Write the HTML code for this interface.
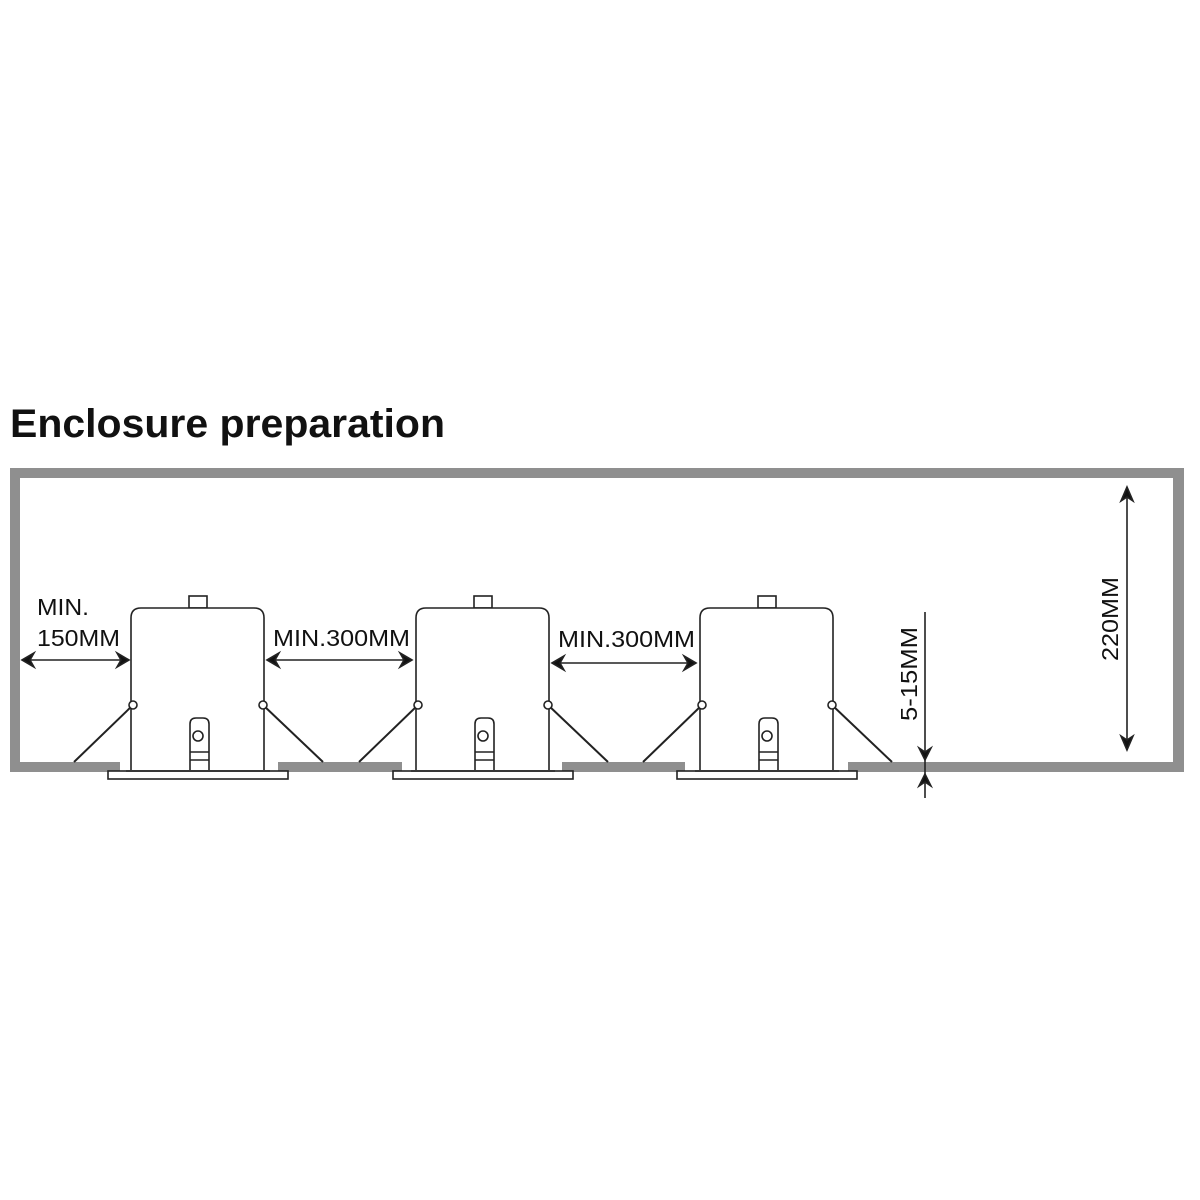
<!DOCTYPE html>
<html><head><meta charset="utf-8"><style>
html,body{margin:0;padding:0;background:#fff;}
svg{display:block;}
</style></head><body>
<svg width="1200" height="1200" viewBox="0 0 1200 1200" xmlns="http://www.w3.org/2000/svg" font-family="Liberation Sans, Arial, sans-serif">
<defs>
<g id="fx" fill="none" stroke="#222" stroke-width="1.6">
  <rect x="189" y="596" width="18" height="12" fill="#fff"/>
  <path d="M131,770 V618 Q131,608 141,608 H254 Q264,608 264,618 V770" fill="#fff"/>
  <rect x="108" y="771" width="180" height="8" fill="#fff"/>
  <line x1="126" y1="771" x2="270" y2="771"/>
  <line x1="133" y1="705" x2="74" y2="762" stroke-width="2"/>
  <line x1="263" y1="705" x2="323" y2="762" stroke-width="2"/>
  <circle cx="133" cy="705" r="4" fill="#fff"/>
  <circle cx="263" cy="705" r="4" fill="#fff"/>
  <path d="M190,770 V724 Q190,718 196,718 H203 Q209,718 209,724 V770" fill="#fff"/>
  <circle cx="198" cy="736" r="5"/>
  <line x1="190" y1="752" x2="209" y2="752"/>
  <line x1="190" y1="760" x2="209" y2="760"/>
</g>
</defs>
<text x="10" y="437" font-size="40" font-weight="bold" textLength="435" lengthAdjust="spacingAndGlyphs" fill="#111">Enclosure preparation</text>
<g fill="#8f8f8f">
  <rect x="10" y="468" width="1174" height="10"/>
  <rect x="10" y="468" width="10" height="304"/>
  <rect x="1173" y="468" width="11" height="304"/>
  <rect x="10" y="762" width="110" height="10"/>
  <rect x="278" y="762" width="124" height="10"/>
  <rect x="562" y="762" width="123" height="10"/>
  <rect x="848" y="762" width="336" height="10"/>
</g>
<use href="#fx"/>
<use href="#fx" transform="translate(285,0)"/>
<use href="#fx" transform="translate(569,0)"/>
<g stroke="#222" stroke-width="1.6" fill="#111">
  <line x1="22" y1="660" x2="129" y2="660"/>
  <path d="M22,660 l12,-7 l-4,7 l4,7z"/>
  <path d="M129,660 l-12,-7 l4,7 l-4,7z"/>
  <line x1="267" y1="660" x2="412" y2="660"/>
  <path d="M267,660 l12,-7 l-4,7 l4,7z"/>
  <path d="M412,660 l-12,-7 l4,7 l-4,7z"/>
  <line x1="552" y1="663" x2="696" y2="663"/>
  <path d="M552,663 l12,-7 l-4,7 l4,7z"/>
  <path d="M696,663 l-12,-7 l4,7 l-4,7z"/>
  <line x1="925" y1="612" x2="925" y2="798"/>
  <path d="M925,760 l-6,-12 l6,4 l6,-4z"/>
  <path d="M925,774 l-6,12 l6,-4 l6,4z"/>
  <line x1="1127" y1="487" x2="1127" y2="750"/>
  <path d="M1127,487 l-6,14 l6,-4 l6,4z"/>
  <path d="M1127,750 l-6,-14 l6,4 l6,-4z"/>
</g>
<g fill="#111" font-size="23">
  <text x="37" y="615" textLength="52" lengthAdjust="spacingAndGlyphs">MIN.</text>
  <text x="37" y="646" textLength="83" lengthAdjust="spacingAndGlyphs">150MM</text>
  <text x="273" y="646" textLength="137" lengthAdjust="spacingAndGlyphs">MIN.300MM</text>
  <text x="558" y="647" textLength="137" lengthAdjust="spacingAndGlyphs">MIN.300MM</text>
  <text transform="translate(917,721) rotate(-90)" textLength="94" lengthAdjust="spacingAndGlyphs">5-15MM</text>
  <text transform="translate(1118,661) rotate(-90)" textLength="84" lengthAdjust="spacingAndGlyphs">220MM</text>
</g>
</svg>
</body></html>
